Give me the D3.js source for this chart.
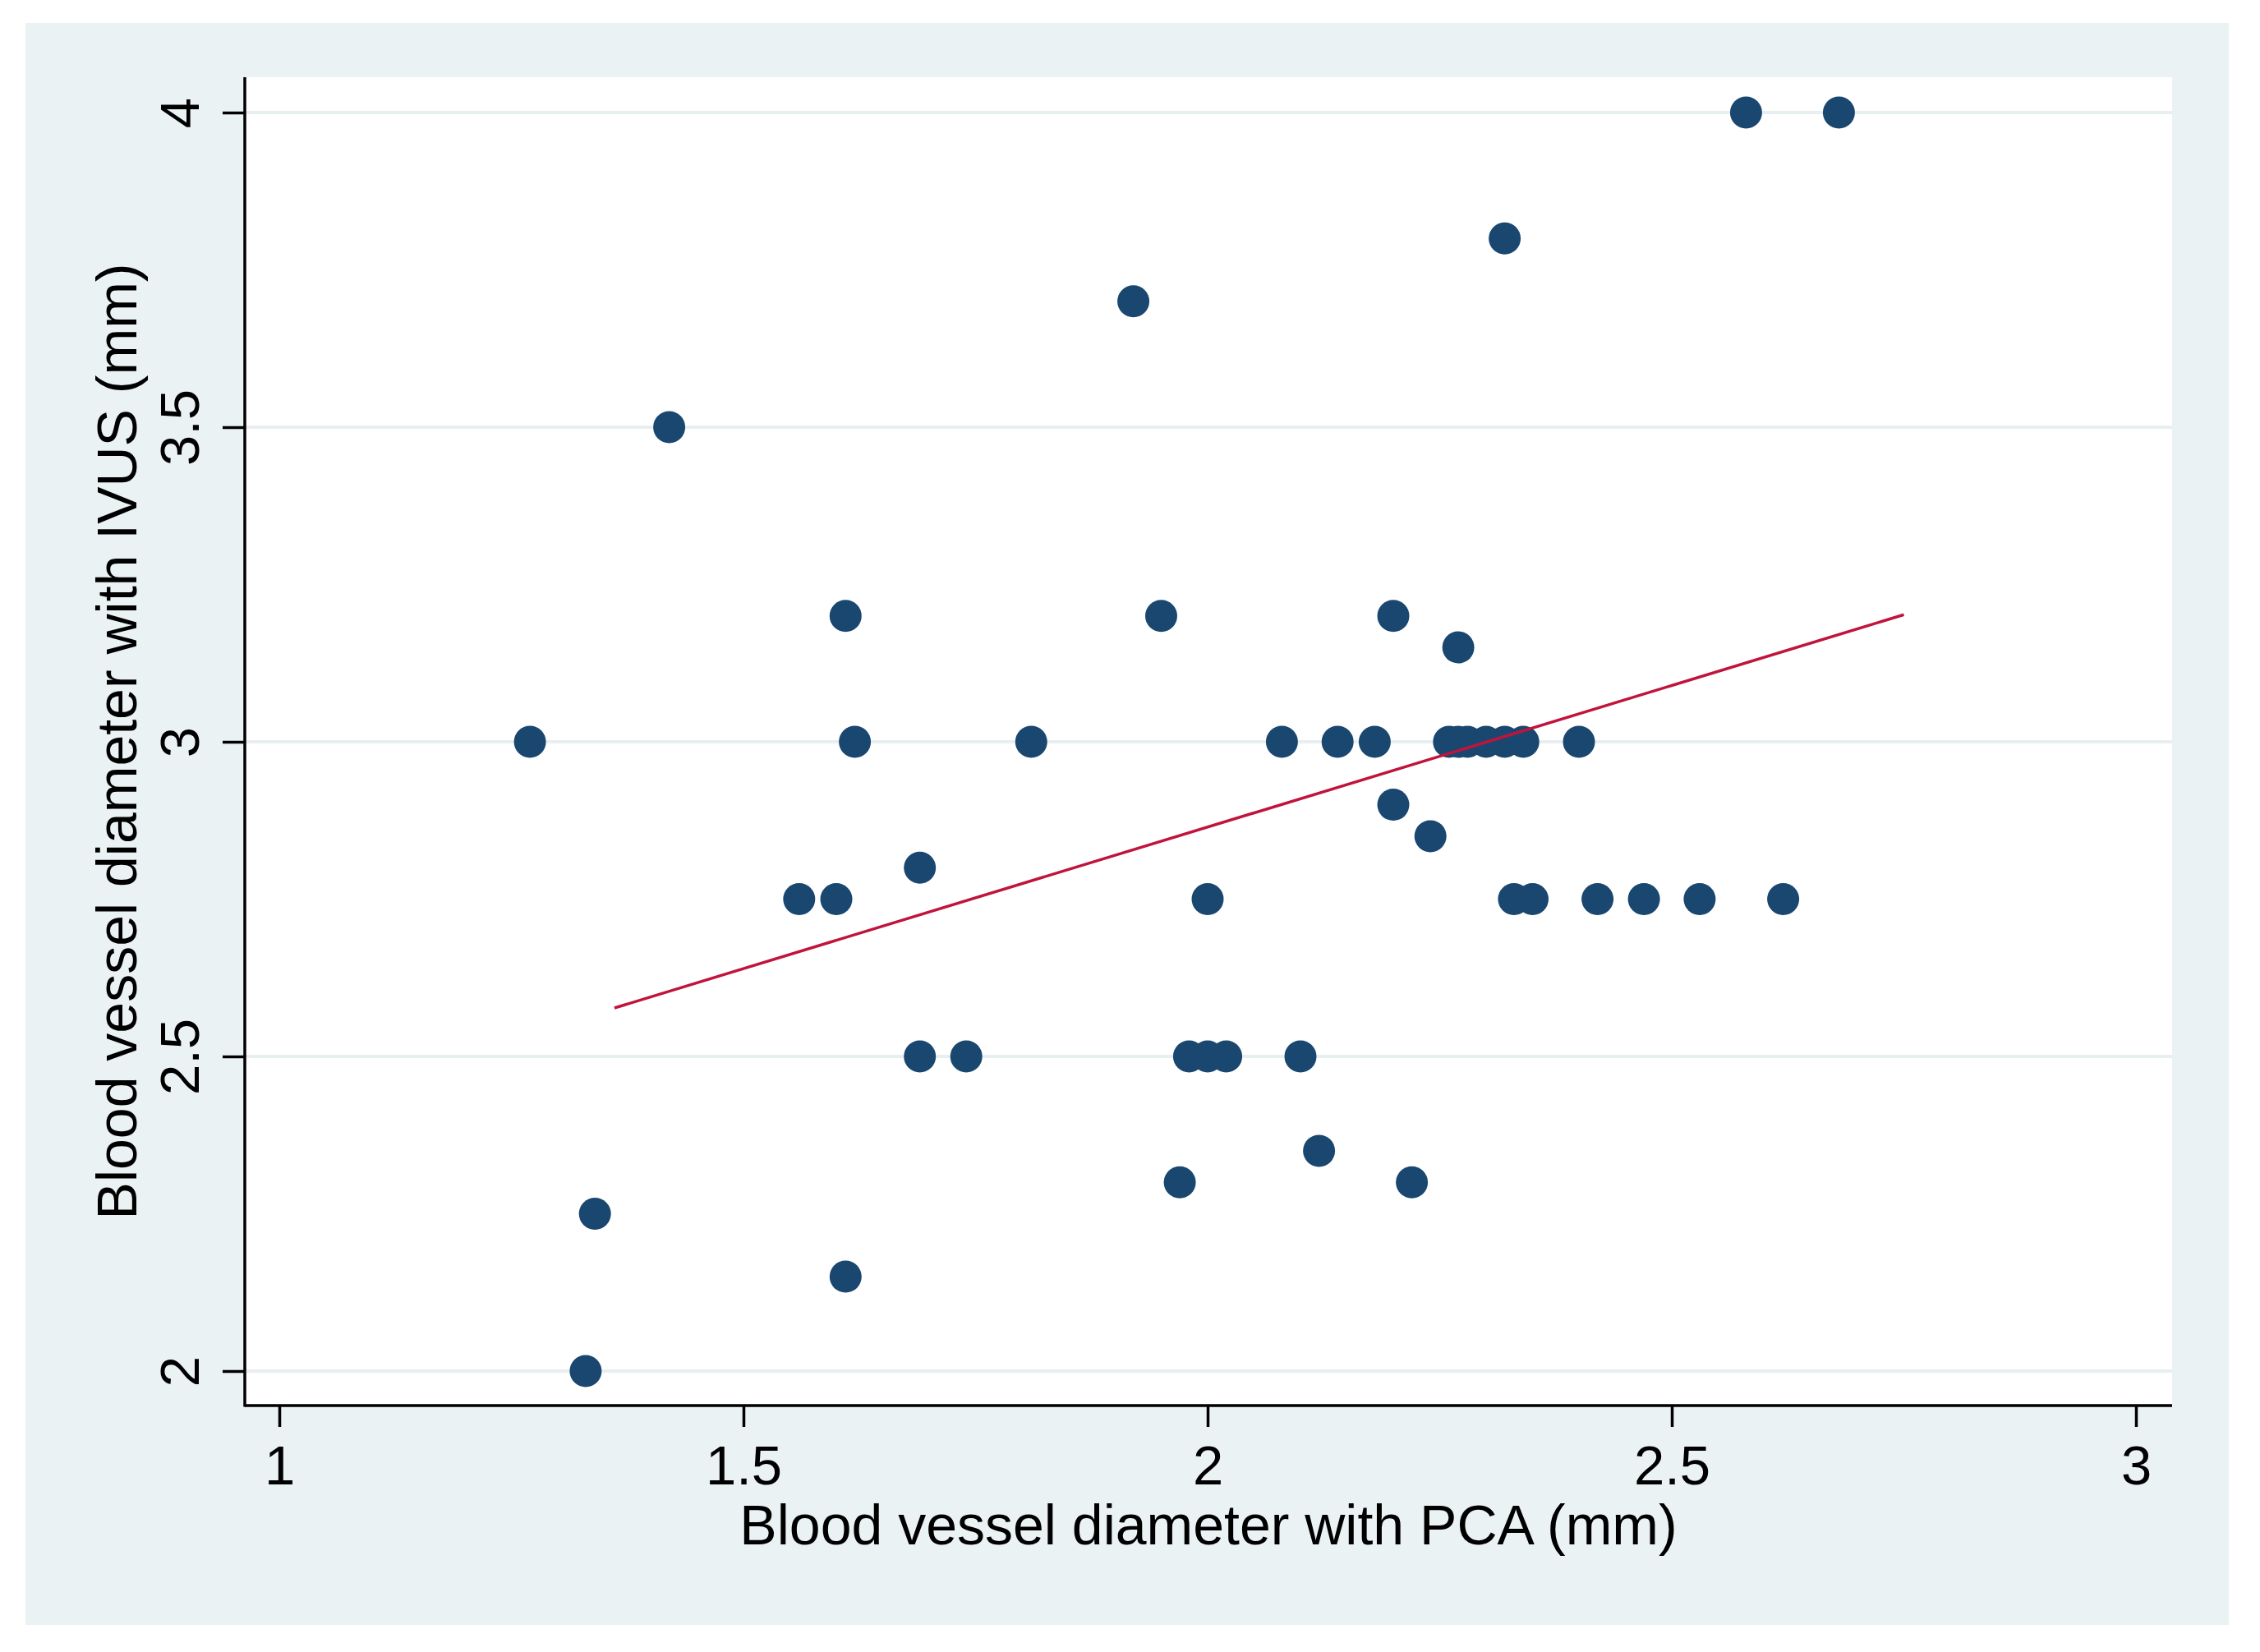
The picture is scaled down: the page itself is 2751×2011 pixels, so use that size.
<!DOCTYPE html>
<html>
<head>
<meta charset="utf-8">
<script src="https://cdn.jsdelivr.net/npm/d3@7/dist/d3.min.js"></script>
<style>
  body { margin: 0; background: #fff; }
  svg { display: block; }
  text { font-family: "Liberation Sans", Arial, sans-serif; fill: #000; }
</style>
</head>
<body>
<svg id="chart"></svg>
<script>
// values
var pcaDiameter = [2.58, 2.68, 2.32, 1.92, 1.42, 1.61, 1.95, 2.20, 2.27,
  1.27, 1.62, 1.81, 2.08, 2.14, 2.18, 2.26, 2.27, 2.28, 2.30, 2.32, 2.34, 2.40,
  2.20, 2.24, 1.69,
  1.56, 1.60, 2.00, 2.33, 2.35, 2.42, 2.47, 2.53, 2.62,
  1.69, 1.74, 1.98, 2.00, 2.02, 2.10,
  2.12, 1.97, 2.22, 1.34, 1.61, 1.33];
var ivusDiameter = [4, 4, 3.8, 3.7, 3.5, 3.2, 3.2, 3.2, 3.15,
  3, 3, 3, 3, 3, 3, 3, 3, 3, 3, 3, 3, 3,
  2.9, 2.85, 2.8,
  2.75, 2.75, 2.75, 2.75, 2.75, 2.75, 2.75, 2.75, 2.75,
  2.5, 2.5, 2.5, 2.5, 2.5, 2.5,
  2.35, 2.3, 2.3, 2.25, 2.15, 2.0];
var fitX = [1.361, 2.750];
var fitY = [2.577, 3.202];
var xTicks = [1, 1.5, 2, 2.5, 3];
var yTicks = [2, 2.5, 3, 3.5, 4];
var xTitle = "Blood vessel diameter with PCA (mm)";
var yTitle = "Blood vessel diameter with IVUS (mm)";

var W = 2751, H = 2011;
var plotL = 298, plotR = 2644, plotT = 94, plotB = 1711;

var svg = d3.select("#chart").attr("width", W).attr("height", H);

var x = d3.scaleLinear().domain([1, 3]).range([340, 2600]);
var y = d3.scaleLinear().domain([2, 4]).range([1669, 137]);

// outer graph region
svg.append("rect").attr("x", 31).attr("y", 28).attr("width", 2682).attr("height", 1950)
  .attr("fill", "#eaf2f3");
svg.append("rect").attr("x", plotL).attr("y", plotT).attr("width", plotR - plotL).attr("height", plotB - plotT)
  .attr("fill", "#ffffff");

// grid
svg.append("g").selectAll("line").data(yTicks).enter().append("line")
  .attr("x1", plotL).attr("x2", plotR)
  .attr("y1", function (d) { return y(d); })
  .attr("y2", function (d) { return y(d); })
  .attr("stroke", "#e7eff1").attr("stroke-width", 4);

// axes
var xAxis = d3.axisBottom(x).tickValues(xTicks).tickSize(26).tickPadding(22).tickFormat(d3.format("~g"));
var gx = svg.append("g").attr("transform", "translate(0," + plotB + ")").call(xAxis);
gx.select(".domain").remove();
gx.selectAll("line").attr("stroke", "#000").attr("stroke-width", 3.5);
gx.selectAll("text").attr("font-size", 67).attr("font-family", "Liberation Sans, Arial, sans-serif");

var yAxis = d3.axisLeft(y).tickValues(yTicks).tickSize(27).tickFormat(d3.format("~g"));
var gy = svg.append("g").attr("transform", "translate(" + plotL + ",0)").call(yAxis);
gy.select(".domain").remove();
gy.selectAll("line").attr("stroke", "#000").attr("stroke-width", 3.5);
gy.selectAll("text")
  .attr("font-size", 67).attr("font-family", "Liberation Sans, Arial, sans-serif")
  .attr("x", 0).attr("dy", 0)
  .attr("text-anchor", "middle")
  .attr("transform", "translate(-56,0) rotate(-90)");

svg.append("line").attr("x1", plotL).attr("x2", plotL).attr("y1", plotT).attr("y2", plotB + 1.5)
  .attr("stroke", "#000").attr("stroke-width", 3.5);
svg.append("line").attr("x1", plotL).attr("x2", plotR).attr("y1", plotB).attr("y2", plotB)
  .attr("stroke", "#000").attr("stroke-width", 3.5);

// points
svg.append("g").selectAll("circle").data(pcaDiameter).enter().append("circle")
  .attr("cx", function (d) { return x(d); })
  .attr("cy", function (d, i) { return y(ivusDiameter[i]); })
  .attr("r", 19.5)
  .attr("fill", "#1a476f");

// fitted line
var line = d3.line()
  .x(function (d) { return x(d); })
  .y(function (d, i) { return y(fitY[i]); });
svg.append("path").datum(fitX).attr("d", line)
  .attr("fill", "none").attr("stroke", "#c0143c").attr("stroke-width", 3.5);

// titles
svg.append("text").attr("x", (plotL + plotR) / 2).attr("y", 1880)
  .attr("text-anchor", "middle").attr("font-size", 68).text(xTitle);
svg.append("text").attr("transform", "translate(166," + (plotT + plotB) / 2 + ") rotate(-90)")
  .attr("text-anchor", "middle").attr("font-size", 68).text(yTitle);
</script>
</body>
</html>
